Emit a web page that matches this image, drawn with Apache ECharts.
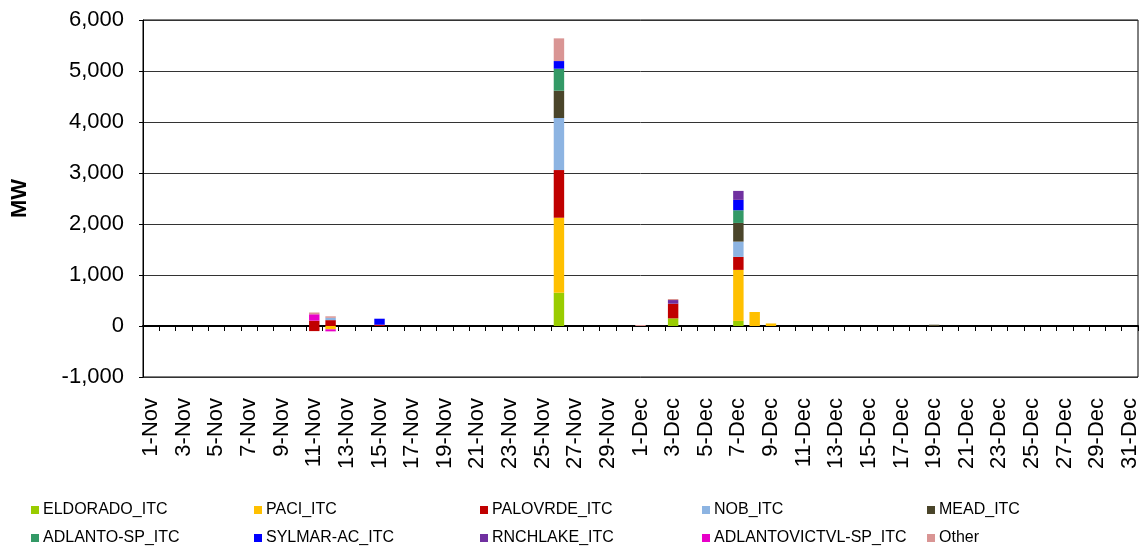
<!DOCTYPE html>
<html><head><meta charset="utf-8">
<script src="https://cdn.jsdelivr.net/npm/echarts@6/dist/echarts.min.js"></script>
<style>html,body{margin:0;padding:0;background:#fff}#c{width:1146px;height:546px}</style>
</head><body><div id="c"></div>
<script>
const categories = ['1-Nov','2-Nov','3-Nov','4-Nov','5-Nov','6-Nov','7-Nov','8-Nov','9-Nov','10-Nov',
'11-Nov','12-Nov','13-Nov','14-Nov','15-Nov','16-Nov','17-Nov','18-Nov','19-Nov','20-Nov',
'21-Nov','22-Nov','23-Nov','24-Nov','25-Nov','26-Nov','27-Nov','28-Nov','29-Nov','30-Nov',
'1-Dec','2-Dec','3-Dec','4-Dec','5-Dec','6-Dec','7-Dec','8-Dec','9-Dec','10-Dec',
'11-Dec','12-Dec','13-Dec','14-Dec','15-Dec','16-Dec','17-Dec','18-Dec','19-Dec','20-Dec',
'21-Dec','22-Dec','23-Dec','24-Dec','25-Dec','26-Dec','27-Dec','28-Dec','29-Dec','30-Dec','31-Dec'];
//                       Nov 1..10                 11..20                          21..30                           Dec 1..10                           11..20                   21..31
const eldorado      = [0,0,0,0,0,0,0,0,0,0,  0,0,0,0,0,0,0,0,0,0,      0,0,0,0,0,653,0,0,0,0,   0,0,150,0,0,0,100,0,0,0,      0,0,0,0,0,0,0,0,0,0,  0,0,0,0,0,0,0,0,0,0,0];
const paci          = [0,0,0,0,0,0,0,0,0,0,  0,-65,0,0,0,0,0,0,0,0,    0,0,0,0,0,1470,0,0,0,0,  0,0,0,0,0,0,1000,275,50,0,     0,0,0,0,0,0,0,0,0,0,  0,0,0,0,0,0,0,0,0,0,0];
const palovrde      = [0,0,0,0,0,0,0,0,0,0,  105,115,0,0,25,0,0,0,0,0, 0,0,0,0,0,935,0,0,0,0,   0,0,287,0,0,0,255,0,0,0,      0,0,0,0,0,0,0,0,0,0,  0,0,0,0,0,0,0,0,0,0,0];
const palovrdeNeg   = [0,0,0,0,0,0,0,0,0,0,  -100,0,0,0,0,0,0,0,0,0,   0,0,0,0,0,0,0,0,0,0,     0,0,0,0,0,0,0,0,0,0,          0,0,0,0,0,0,0,0,0,0,  0,0,0,0,0,0,0,0,0,0,0];
const nob           = [0,0,0,0,0,0,0,0,0,0,  0,45,0,0,0,0,0,0,0,0,     0,0,0,0,0,1020,0,0,0,0,  0,0,0,0,0,0,300,0,0,0,        0,0,0,0,0,0,0,0,0,0,  0,0,0,0,0,0,0,0,0,0,0];
const mead          = [0,0,0,0,0,0,0,0,0,0,  0,0,0,0,0,0,0,0,0,0,      0,0,0,0,0,536,0,0,0,0,   0,0,0,0,0,0,366,0,0,0,        0,0,0,0,0,0,0,0,25,0, 0,0,0,0,0,0,0,0,0,0,0];
const adlantoSp     = [0,0,0,0,0,0,0,0,0,0,  0,0,0,0,0,0,0,0,0,0,      0,0,0,0,0,431,0,0,0,0,   0,0,0,0,0,0,249,0,0,0,        0,0,0,0,0,0,0,0,0,0,  0,0,0,0,0,0,0,0,0,0,0];
const sylmar        = [0,0,0,0,0,0,0,0,0,0,  0,0,0,0,118,0,0,0,0,0,    0,0,0,0,0,150,0,0,0,0,   0,0,0,0,0,0,203,0,0,0,        0,0,0,0,0,0,0,0,0,0,  0,0,0,0,0,0,0,0,0,0,0];
const rnchlake      = [0,0,0,0,0,0,0,0,0,0,  0,0,0,0,0,0,0,0,0,0,      0,0,0,0,0,0,0,0,0,0,     0,0,72,0,0,0,176,0,0,0,       0,0,0,0,0,0,0,0,0,0,  0,0,0,0,0,0,0,0,0,0,0];
const adlantoVictvl = [0,0,0,0,0,0,0,0,0,0,  125,-40,0,0,0,0,0,0,0,0,  0,0,0,0,0,0,0,0,0,0,     0,0,0,0,0,0,0,0,0,0,          0,0,0,0,0,0,0,0,0,0,  0,0,0,0,0,0,0,0,0,0,0];
const other         = [0,0,0,0,0,0,0,0,0,0,  35,30,0,0,0,0,0,0,0,0,    0,0,0,0,0,445,0,0,0,0,   20,0,20,0,0,0,0,0,0,0,        0,0,0,0,0,0,0,0,0,0,  0,0,0,0,0,0,0,0,0,0,0];
const yTicks = [-1000, 0, 1000, 2000, 3000, 4000, 5000, 6000];

const FONT = 'Liberation Sans, Arial, sans-serif';
const defs = [
  ['ELDORADO_ITC', eldorado, '#99CC00'],
  ['PACI_ITC', paci, '#FFC000'],
  ['PALOVRDE_ITC', palovrde, '#C00000'],
  ['PALOVRDE_ITC', palovrdeNeg, '#C00000'],
  ['NOB_ITC', nob, '#8DB4E2'],
  ['MEAD_ITC', mead, '#4A452A'],
  ['ADLANTO-SP_ITC', adlantoSp, '#339966'],
  ['SYLMAR-AC_ITC', sylmar, '#0000FF'],
  ['RNCHLAKE_ITC', rnchlake, '#7030A0'],
  ['ADLANTOVICTVL-SP_ITC', adlantoVictvl, '#E800C8'],
  ['Other', other, '#D99594']
];
const series = defs.map(d => ({
  name: d[0], type: 'bar', stack: 'all', xAxisIndex: 0, yAxisIndex: 0,
  data: d[1].map(v => v === 0 ? null : v), barWidth: '64%',
  itemStyle: { color: d[2] }, animation: false
}));

const cols = [
  ['ELDORADO_ITC', 'ADLANTO-SP_ITC'],
  ['PACI_ITC', 'SYLMAR-AC_ITC'],
  ['PALOVRDE_ITC', 'RNCHLAKE_ITC'],
  ['NOB_ITC', 'ADLANTOVICTVL-SP_ITC'],
  ['MEAD_ITC', 'Other']
];
const colX = [31, 254, 480, 702, 927];
const legends = cols.map((c, i) => ({
  data: c, orient: 'vertical', left: colX[i], top: 502, height: 44, padding: 0, itemGap: 12,
  itemWidth: 8, itemHeight: 8, icon: 'rect', selectedMode: false,
  textStyle: { fontFamily: FONT, fontSize: 16, color: '#000', padding: [0,0,0,-1] }
}));

const chart = echarts.init(document.getElementById('c'), null, { renderer: 'canvas' });
chart.setOption({
  animation: false,
  backgroundColor: '#fff',
  legend: legends,
  grid: { left: 143, top: 20, right: 8, bottom: 169, show: true, borderColor: '#000', borderWidth: 1, backgroundColor: 'transparent' },
  xAxis: [
    { type: 'category', data: categories, gridIndex: 0,
      axisLine: { onZero: true, lineStyle: { color: '#000', width: 2 } },
      axisTick: { show: true, interval: 0, length: 5, lineStyle: { color: '#000', width: 1 } },
      axisLabel: { show: false }, splitLine: { show: false } },
    { type: 'category', data: categories, gridIndex: 0, position: 'bottom',
      axisLine: { show: false, onZero: false }, axisTick: { show: false },
      axisLabel: { show: true, interval: 1, rotate: 90, margin: 21, fontFamily: FONT, fontSize: 22, color: '#000' } }
  ],
  yAxis: {
    type: 'value', min: -1000, max: 6000, interval: 1000,
    axisLine: { show: true, lineStyle: { color: '#000', width: 1 } },
    axisTick: { show: true, length: 4, lineStyle: { color: '#000' } },
    axisLabel: { margin: 19, fontFamily: FONT, fontSize: 22, color: '#000',
      formatter: v => yTicks.includes(v) ? v.toLocaleString('en-US') : '' },
    splitLine: { show: true, lineStyle: { color: '#333', width: 1 } },
    name: 'MW', nameLocation: 'middle', nameGap: 112, nameRotate: 90,
    nameTextStyle: { fontFamily: FONT, fontSize: 22, fontWeight: 'bold', color: '#000' }
  },
  series: series
});
</script>
</body></html>
